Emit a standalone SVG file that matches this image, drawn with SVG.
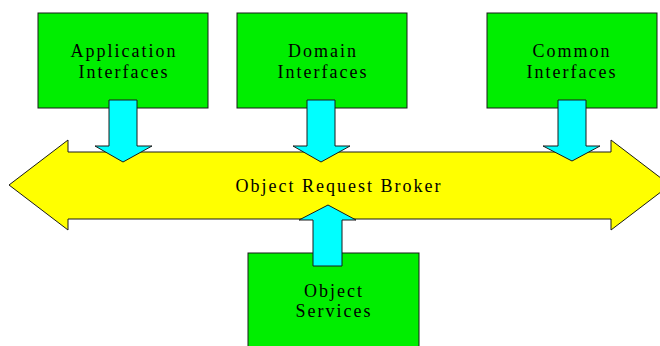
<svg xmlns="http://www.w3.org/2000/svg" width="660" height="346" viewBox="0 0 660 346">
  <style>
    .box { fill: #00ee00; stroke: #1a1a1a; stroke-width: 1; }
    .orb { fill: #ffff00; stroke: #1a1a1a; stroke-width: 1; }
    .flow { fill: #00ffff; stroke: #1a1a1a; stroke-width: 1; }
    .label { font-family: "Liberation Serif", "Times New Roman", serif; font-size: 18px; letter-spacing: 2px; fill: #000; text-anchor: middle; }
  </style>
  <rect width="660" height="346" fill="#ffffff"/>

  <!-- central bus: double-headed arrow -->
  <g id="object-request-broker">
    <polygon class="orb" points="9,185 68,140 68,152 611,152 611,140 670,185 611,230 611,219 68,219 68,230"/>
    <text class="label" x="339" y="192">Object Request Broker</text>
  </g>

  <g id="application-interfaces">
    <rect class="box" x="38" y="13" width="170" height="95"/>
    <text class="label" x="124" y="57">Application</text>
    <text class="label" x="124" y="78">Interfaces</text>
  </g>

  <g id="domain-interfaces">
    <rect class="box" x="237" y="13" width="170" height="95"/>
    <text class="label" x="323" y="57">Domain</text>
    <text class="label" x="323" y="78">Interfaces</text>
  </g>

  <g id="common-interfaces">
    <rect class="box" x="487" y="13" width="170" height="95"/>
    <text class="label" x="572" y="57">Common</text>
    <text class="label" x="572" y="78">Interfaces</text>
  </g>

  <g id="object-services">
    <rect class="box" x="248" y="253" width="171" height="100"/>
    <text class="label" x="334" y="297">Object</text>
    <text class="label" x="334" y="317">Services</text>
  </g>

  <!-- block arrows linking the boxes to the bus -->
  <g id="connectors">
    <polygon class="flow" points="109,100 137,100 137,146 152,146 123,162 95,146 109,146"/>
    <polygon class="flow" points="307,100 335,100 335,146 350,146 321,162 293,146 307,146"/>
    <polygon class="flow" points="558,100 586,100 586,146 600,146 572,161 543,146 558,146"/>
    <polygon class="flow" points="313,266 342,266 342,220 356,220 328,205 299,220 313,220"/>
  </g>
</svg>
